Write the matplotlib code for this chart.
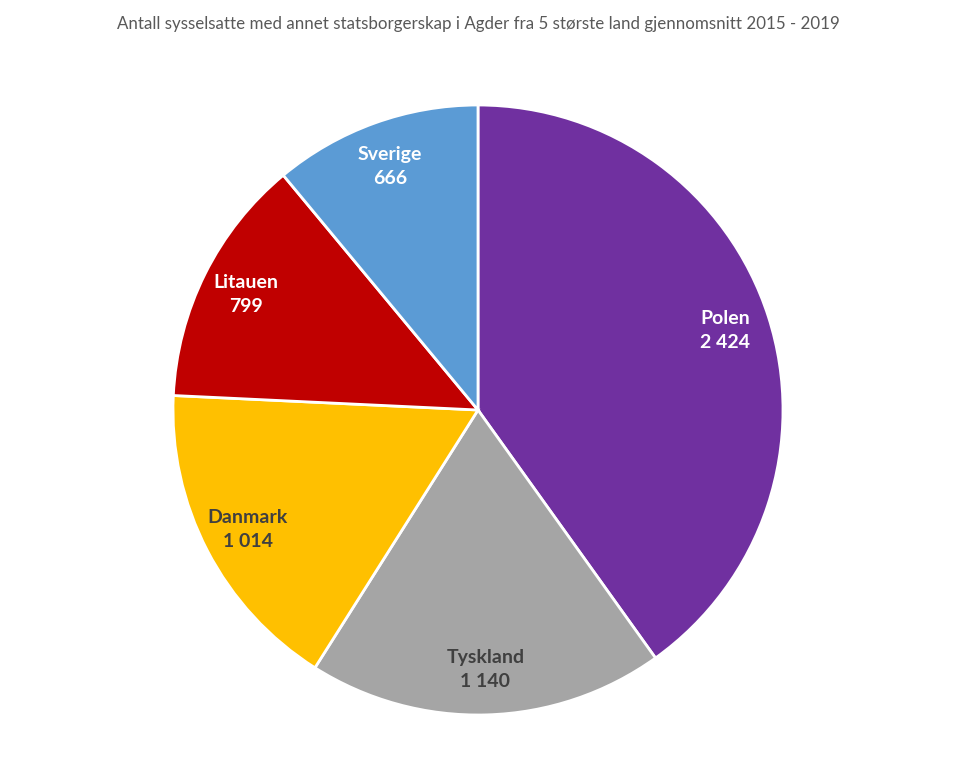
import matplotlib.pyplot as plt

land = ['Polen', 'Tyskland', 'Danmark', 'Litauen', 'Sverige']
antall = [2424, 1140, 1014, 799, 666]
farger = ['#7030A0', '#A5A5A5', '#FFC000', '#C00000', '#5B9BD5']
tekstfarger = ['white', '#404040', '#404040', 'white', 'white']


def fmt(v):
    return '{:,}'.format(v).replace(',', ' ')


fig = plt.figure(figsize=(9.56, 7.84), dpi=100)
fig.patch.set_facecolor('white')

# pie centred at (478, 410) px, radius ~305 px
w = 610 / 956
h = 610 / 784
ax = fig.add_axes([0.5 - w / 2, 1 - 410 / 784 - h / 2, w, h])

etiketter = ['{}\n{}'.format(n, fmt(v)) for n, v in zip(land, antall)]
wedges, texts = ax.pie(antall, labels=etiketter, colors=farger, startangle=90,
                       counterclock=False, labeldistance=0.85,
                       wedgeprops=dict(edgecolor='white', linewidth=2))
for t, c in zip(texts, tekstfarger):
    t.set_ha('center')
    t.set_va('center')
    t.set_color(c)
    t.set_fontsize(14)
    t.set_fontweight('bold')
    t.set_family('Lato')
    t.set_linespacing(1.5)

ax.set_xlim(-1, 1)
ax.set_ylim(-1, 1)
ax.set_aspect('equal')
ax.axis('off')

fig.text(0.5, 1 - 24 / 784,
         'Antall sysselsatte med annet statsborgerskap i Agder fra 5 største land gjennomsnitt 2015 - 2019',
         ha='center', va='center', fontsize=12.2, color='#595959', family='Lato')

fig.savefig('out.png', dpi=100, facecolor='white')
